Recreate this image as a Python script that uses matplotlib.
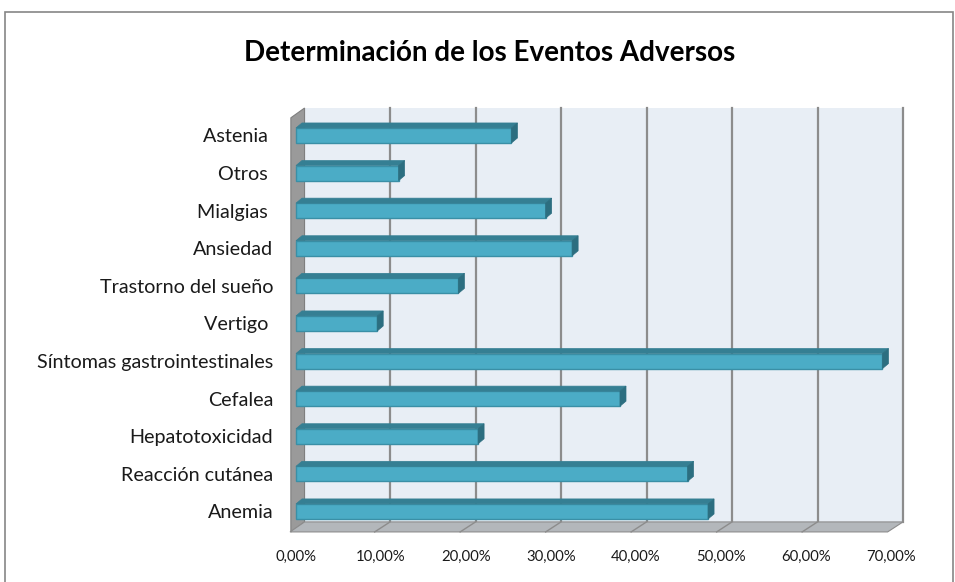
import matplotlib
matplotlib.use("Agg")
import matplotlib.pyplot as plt
from matplotlib.patches import Polygon, Rectangle

# categories listed bottom-up (as Excel stores them)
categories = ["Anemia", "Reacción cutánea", "Hepatotoxicidad", "Cefalea",
              "Síntomas gastrointestinales", "Vertigo ", "Trastorno del sueño",
              "Ansiedad", "Mialgias ", "Otros ", "Astenia "]
values = [48.2, 45.8, 21.3, 37.9, 68.6, 9.5, 19.0, 32.3, 29.2, 12.0, 25.2]  # percent
ticks = [0, 10, 20, 30, 40, 50, 60, 70]
title = "Determinación de los Eventos Adversos"

plt.rcParams['font.family'] = ['Lato', 'DejaVu Sans']

fig = plt.figure(figsize=(9.55, 5.82), dpi=100)
ax = fig.add_axes([0.2992, 0.0631, 0.6553, 0.7655])
ax.set_xlim(-2.2, 71)
ax.set_ylim(-0.9, 10.95)
for s in ax.spines.values():
    s.set_visible(False)
ax.patch.set_visible(False)

wall_top = 10.73
floor_back = -0.279
floor_front = -0.545

# back wall + gridlines
ax.add_patch(Rectangle((0, floor_back), 70, wall_top - floor_back,
                       facecolor="#E8EEF5", edgecolor="none", zorder=0))
for t in ticks[1:]:
    ax.plot([t, t], [floor_back, wall_top], color="#8C8C8C", lw=1.6, zorder=1)

# left wall
ax.add_patch(Polygon([(0, wall_top), (-1.6, 10.47), (-1.6, floor_front), (0, floor_back)],
                     facecolor="#9A9A9A", edgecolor="#7F7F7F", lw=0.8, zorder=1))
# floor
ax.add_patch(Polygon([(0, floor_back), (70, floor_back), (68.2, floor_front), (-1.7, floor_front)],
                     facecolor="#B3B7BB", edgecolor="#8C8C8C", lw=0.8, zorder=1))
for t in ticks[1:-1]:
    ax.plot([t, t - 1.8], [floor_back, floor_front], color="#8C8C8C", lw=1.0, zorder=1)

# bars: front face + top face + right face
h = 0.40
dx, dy = 0.70, 0.133
ypos = list(range(len(categories)))
ax.barh(ypos, values, left=-1.0, height=h, color="#4BACC6",
        edgecolor="#3A8FA6", linewidth=1.0, zorder=3)
for y, v in zip(ypos, values):
    x0, x1 = -1.0, -1.0 + v
    yt, yb = y + h / 2, y - h / 2
    ax.add_patch(Polygon([(x0, yt), (x0 + dx, yt + dy), (x1 + dx, yt + dy), (x1, yt)],
                         facecolor="#357F93", edgecolor="#357F93", lw=0.5, zorder=3))
    ax.add_patch(Polygon([(x1, yb), (x1, yt), (x1 + dx, yt + dy), (x1 + dx, yb + dy)],
                         facecolor="#2C6E80", edgecolor="#2C6E80", lw=0.5, zorder=3))

ax.set_yticks(ypos)
ax.set_yticklabels(categories, fontsize=14.2, color="#1a1a1a")
ax.set_xticks([t * 0.994 - 1.0 for t in ticks])
ax.set_xticklabels([f"{t:.2f}%".replace(".", ",") for t in ticks], fontsize=10.7, color="#1a1a1a")
ax.tick_params(axis="y", length=0, pad=9)
ax.tick_params(axis="x", length=0, pad=3)

fig.text(0.513, 0.9090, title, ha="center", va="center", fontsize=20, fontweight="bold")

# chart border
fig.patches.append(Rectangle((4.5 / 955, -0.1), (952.5 - 4.5) / 955, 1.1 - 11.5 / 582,
                             transform=fig.transFigure, fill=False, edgecolor="#868686", lw=1.2))

fig.savefig("out.png", dpi=100)
